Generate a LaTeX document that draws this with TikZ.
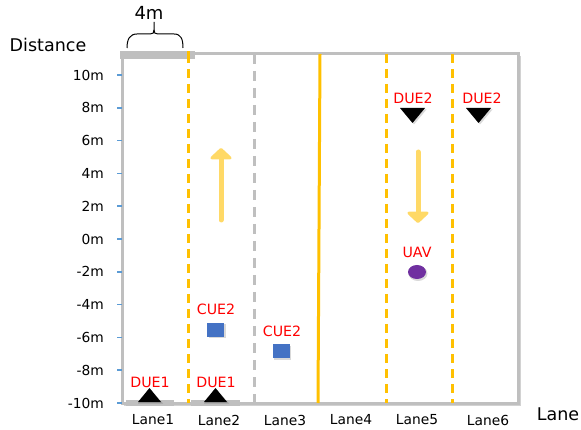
\documentclass[tikz,border=0pt]{standalone}
\usepackage{fontspec}
\setmainfont{DejaVu Sans}
\usetikzlibrary{arrows.meta,shapes.geometric}
\definecolor{gold}{HTML}{FFC000}
\definecolor{lightgold}{HTML}{FFD966}
\definecolor{framegray}{HTML}{BFBFBF}
\definecolor{tickblue}{HTML}{5B9BD5}
\definecolor{cueblue}{HTML}{4472C4}
\definecolor{uavpurple}{HTML}{7030A0}
\begin{document}
\begin{tikzpicture}[x=1pt,y=-1pt,
  ticklabel/.style={anchor=east,inner sep=0pt,font=\fontsize{13.8}{15}\selectfont},
  lanelabel/.style={inner sep=0pt,font=\fontsize{13.8}{15}\selectfont},
  devlabel/.style={inner sep=0pt,text=red,font=\fontsize{14.2}{15}\selectfont},
  framestyle/.style={framegray,line width=3pt},
  goldsolid/.style={gold,line width=3pt},
  golddash/.style={gold,line width=3pt,dash pattern=on 9pt off 6pt},
  graydash/.style={framegray,line width=3pt,dash pattern=on 10pt off 7pt},
  tickmark/.style={tickblue,line width=1.5pt},
  dirarrow/.style={lightgold,line width=5pt,line cap=round,-{Triangle[width=25pt,length=12pt,round]}},
  cuebox/.style={fill=cueblue,draw=none,minimum width=17pt,minimum height=14pt,inner sep=0pt},
  shadowgray/.style={fill=black,opacity=0.15}
]
\useasboundingbox (0,0) rectangle (581,430);

% frame
\coordinate (tl) at (122,54);
\coordinate (tr) at (518,54);
\coordinate (bl) at (122,403);
\coordinate (br) at (518,403);
\draw[framegray!70,line width=3pt] (519.5,56) -- (519.5,404.5) -- (124,404.5);
\draw[framestyle] (tl) -- (tr) -- (br) -- (bl) -- cycle;

% lane separators
\coordinate (s1t) at (188,54); \coordinate (s1b) at (188,403);
\coordinate (s2t) at (254,54); \coordinate (s2b) at (254,403);
\coordinate (s3t) at (320,54); \coordinate (s3b) at (318,403);
\coordinate (s4t) at (386,54); \coordinate (s4b) at (386,403);
\coordinate (s5t) at (452,54); \coordinate (s5b) at (452,403);
\draw[golddash] (s1t) -- (s1b);
\draw[graydash] (s2t) -- (s2b);
\draw[goldsolid] (s3t) -- (s3b);
\draw[golddash] (s4t) -- (s4b);
\draw[golddash] (s5t) -- (s5b);

% top bar (lane width)
\fill[framegray] (120,51) rectangle (195,59);
\fill[gold] (186.5,51) rectangle (189.5,59);

% bottom bars
\fill[framegray] (126,399.5) rectangle (174,405.5);
\fill[framegray] (191,399.5) rectangle (240,405.5);

% brace and 4m
\draw[black,line width=1pt] (127,48) .. controls (127,39) and (130,34) .. (137,34) -- (150,34)
  .. controls (153,34) and (154,33) .. (154,30) -- (154,22);
\draw[black,line width=1pt] (154,30) .. controls (154,33) and (155,34) .. (158,34) -- (174,34)
  .. controls (181,34) and (183,39) .. (183,48);
\node[inner sep=0pt,font=\fontsize{18}{19}\selectfont] (w) at (149,13) {4m};

% axis titles
\node[inner sep=0pt,font=\fontsize{17.5}{19}\selectfont] (dist) at (48,45) {Distance};
\node[inner sep=0pt,font=\fontsize{17.5}{19}\selectfont] (lane) at (558,414) {Lane};

% y ticks
\foreach \v [count=\i from 0] in {10,8,6,4,2,0,-2,-4,-6,-8,-10}{
  \pgfmathsetmacro{\yy}{75+\i*32.8}
  \coordinate (t\i a) at (117,\yy);
  \coordinate (t\i b) at (122,\yy);
  \draw[tickmark] (t\i a) -- (t\i b);
  \node[ticklabel] (yl\i) at (104,\yy) {\v m};
}

% lane labels
\node[lanelabel] (l1) at (153,420) {Lane1};
\node[lanelabel] (l2) at (219,420) {Lane2};
\node[lanelabel] (l3) at (285,420) {Lane3};
\node[lanelabel] (l4) at (351,420) {Lane4};
\node[lanelabel] (l5) at (417,420) {Lane5};
\node[lanelabel] (l6) at (488,420) {Lane6};

% direction arrows
\coordinate (upA) at (221,220);
\coordinate (upB) at (221,148);
\draw[dirarrow] (upA) -- (upB);
\coordinate (dnA) at (418,152);
\coordinate (dnB) at (418,223);
\draw[dirarrow] (dnA) -- (dnB);

% DUE1 (triangles up)
\node[devlabel] (due1a) at (150,382) {DUE1};
\node[devlabel] (due1b) at (216,382) {DUE1};
\fill[shadowgray] (150.5,389.5) -- (163,403.5) -- (138,403.5) -- cycle;
\fill[black] (149.5,388) -- (161,402) -- (138,402) -- cycle;
\fill[shadowgray] (216.5,389.5) -- (229,403.5) -- (204,403.5) -- cycle;
\fill[black] (215.5,388) -- (227,402) -- (204,402) -- cycle;

% DUE2 (triangles down)
\node[devlabel] (due2a) at (413,98) {DUE2};
\node[devlabel] (due2b) at (482,98) {DUE2};
\fill[shadowgray] (401.5,109.5) -- (426.5,109.5) -- (414,124.5) -- cycle;
\fill[black] (400,108) -- (425,108) -- (412.5,123) -- cycle;
\fill[shadowgray] (467.5,109.5) -- (492.5,109.5) -- (480,124.5) -- cycle;
\fill[black] (466,108) -- (491,108) -- (478.5,123) -- cycle;

% CUE2 (squares)
\node[devlabel] (cue2a) at (216,309) {CUE2};
\node[devlabel] (cue2b) at (282,331) {CUE2};
\fill[shadowgray] (208.5,324.5) rectangle (225.5,338.5);
\node[cuebox] (sqa) at (215.5,330) {};
\fill[shadowgray] (273.5,345.5) rectangle (290.5,359.5);
\node[cuebox] (sqb) at (281,351) {};

% UAV
\node[devlabel] (uavl) at (417,252) {UAV};
\fill[shadowgray] (418,273.5) ellipse (9.5pt and 7.5pt);
\node[ellipse,fill=uavpurple,minimum width=18pt,minimum height=14pt,inner sep=0pt] (uav) at (417,272) {};
\end{tikzpicture}
\end{document}
